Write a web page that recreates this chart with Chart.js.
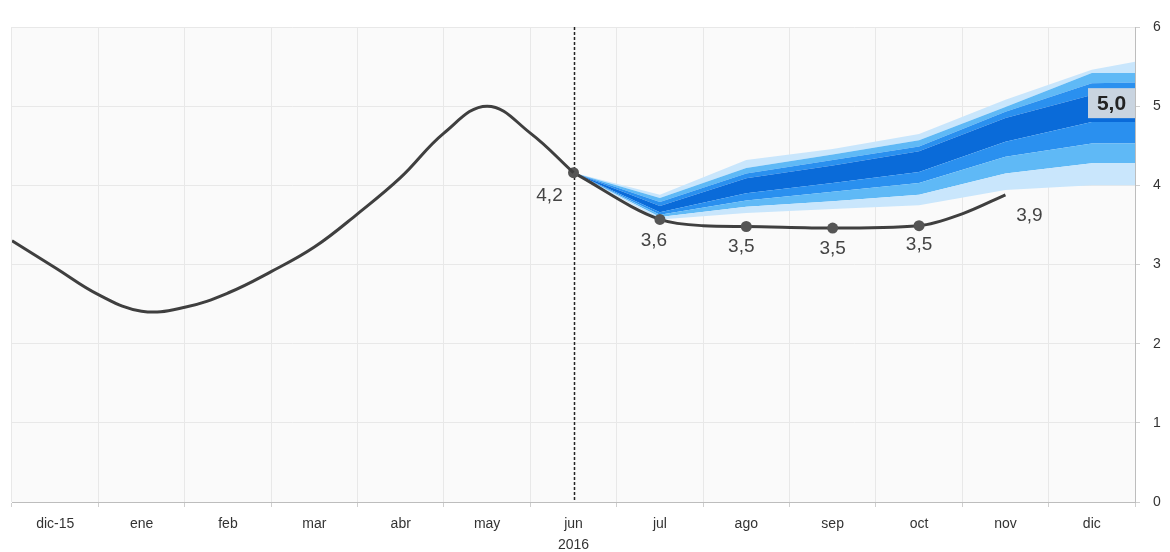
<!DOCTYPE html>
<html>
<head>
<meta charset="utf-8">
<script src="https://cdn.jsdelivr.net/npm/chart.js@4.4.0/dist/chart.umd.min.js"></script>
<style>
    html, body { margin: 0; padding: 0; background: #fff; }
    #wrap { width: 1170px; height: 552px; position: relative; }
</style>
</head>
<body>
<div id="wrap"><canvas id="chart"></canvas></div>
<script>
// categories (x index 0..12)
const monthLabels = ['dic-15', 'ene', 'feb', 'mar', 'abr', 'may', ['jun', '2016'], 'jul', 'ago', 'sep', 'oct', 'nov', 'dic'];
const yTickValues = [0, 1, 2, 3, 4, 5, 6];

// observed line
const histX = [-0.5, 0, 0.5, 1, 1.5, 2, 2.5, 3, 3.5, 4, 4.5, 5, 5.5, 6];
const histY = [3.30, 2.96, 2.62, 2.41, 2.46, 2.64, 2.91, 3.22, 3.64, 4.10, 4.66, 5.0, 4.66, 4.16];

// projection line
const projX = [6, 7, 7.5, 8, 9, 10, 10.5, 11];
const projY = [4.16, 3.57, 3.49, 3.48, 3.46, 3.49, 3.64, 3.88];
const dotX = [6, 7, 8, 9, 10];

// value labels
const valueLabelX = [6, 7, 8, 9, 10, 11];
const valueLabelText = ['4,2', '3,6', '3,5', '3,5', '3,5', '3,9'];
const lastLabelValue = 5.0;
const lastLabelText = '5,0';

// fan bands (lower -> upper bounds)
const fanX   = [6, 7, 8, 9, 10, 11, 12, 12.5];
const fanLo3 = [4.16, 3.57, 3.65, 3.70, 3.75, 3.94, 4.00, 4.00];
const fanLo2 = [4.16, 3.60, 3.73, 3.80, 3.88, 4.15, 4.28, 4.28];
const fanLo1 = [4.16, 3.63, 3.81, 3.92, 4.03, 4.36, 4.53, 4.53];
const fanLo0 = [4.16, 3.66, 3.90, 4.03, 4.17, 4.55, 4.80, 4.80];
const fanHi0 = [4.16, 3.74, 4.09, 4.25, 4.43, 4.85, 5.14, 5.14];
const fanHi1 = [4.16, 3.79, 4.15, 4.32, 4.49, 4.93, 5.29, 5.30];
const fanHi2 = [4.16, 3.84, 4.22, 4.39, 4.57, 4.99, 5.42, 5.42];
const fanHi3 = [4.16, 3.88, 4.32, 4.46, 4.65, 5.08, 5.46, 5.56];

const FONT = '"Liberation Sans", Arial, sans-serif';
const LINE_COLOR = '#3f3f3f';
const fanColors = ['#c9e6fc', '#5fb9f6', '#2a90ef', '#0a6bd9', '#2a90ef', '#5fb9f6', '#c9e6fc'];
const labelOffsets = [[-24, 23], [-6, 21], [-5, 20], [0, 21], [0, 19], [24, 21]];

function toPoints(xs, ys) {
    return xs.map((x, i) => ({ x: x, y: ys[i] }));
}

function valueAt(x) {
    const i = projX.indexOf(x);
    return i >= 0 ? projY[i] : histY[histX.indexOf(x)];
}

const fanBounds = [fanLo3, fanLo2, fanLo1, fanLo0, fanHi0, fanHi1, fanHi2, fanHi3];
const fanDatasets = fanBounds.map((b, k) => ({
    data: toPoints(fanX, b),
    fill: k === 0 ? false : '-1',
    backgroundColor: k === 0 ? 'rgba(0,0,0,0)' : fanColors[k - 1],
    borderWidth: 0,
    pointRadius: 0,
    tension: 0,
    order: 2
}));

// plot background + dashed jun line
const backdropPlugin = {
    id: 'backdrop',
    beforeDraw(chart) {
        const a = chart.chartArea;
        const ctx = chart.ctx;
        ctx.save();
        ctx.fillStyle = '#fafafa';
        ctx.fillRect(a.left, a.top, a.right - a.left, a.bottom - a.top);
        ctx.restore();
    },
    beforeDatasetsDraw(chart) {
        const a = chart.chartArea;
        const ctx = chart.ctx;
        const x = Math.round(chart.scales.x.getPixelForValue(6)) + 0.5;
        ctx.save();
        ctx.strokeStyle = '#222';
        ctx.lineWidth = 1.5;
        ctx.setLineDash([3, 2]);
        ctx.beginPath();
        ctx.moveTo(x, a.top);
        ctx.lineTo(x, a.bottom);
        ctx.stroke();
        ctx.restore();
    }
};

// numbers next to the points
const valueLabelPlugin = {
    id: 'valueLabels',
    afterDatasetsDraw(chart) {
        const ctx = chart.ctx;
        const xs = chart.scales.x;
        const ys = chart.scales.y;
        ctx.save();
        ctx.font = '19px ' + FONT;
        ctx.fillStyle = '#444';
        ctx.textAlign = 'center';
        ctx.textBaseline = 'middle';
        valueLabelX.forEach((vx, i) => {
            const off = labelOffsets[i];
            ctx.fillText(valueLabelText[i], xs.getPixelForValue(vx) + off[0], ys.getPixelForValue(valueAt(vx)) + off[1]);
        });

        // boxed last value
        const a = chart.chartArea;
        const py = ys.getPixelForValue(lastLabelValue);
        const bw = 47, bh = 30;
        ctx.fillStyle = '#c9d4e0';
        ctx.fillRect(a.right - bw, py - 3 - bh / 2, bw, bh);
        ctx.font = 'bold 21px ' + FONT;
        ctx.fillStyle = '#222';
        ctx.fillText(lastLabelText, a.right - bw / 2, py - 2);
        ctx.restore();
    }
};

new Chart(document.getElementById('chart'), {
    type: 'line',
    data: {
        datasets: [
            {
                data: toPoints(histX, histY),
                borderColor: LINE_COLOR,
                borderWidth: 3,
                tension: 0.4,
                fill: false,
                pointRadius: 0,
                order: 0
            },
            {
                data: toPoints(projX, projY),
                borderColor: LINE_COLOR,
                borderWidth: 3,
                cubicInterpolationMode: 'monotone',
                fill: false,
                pointRadius: ctx => dotX.includes(projX[ctx.dataIndex]) ? 5.5 : 0,
                pointBackgroundColor: '#555',
                pointBorderColor: '#555',
                pointBorderWidth: 0,
                order: 0
            },
            ...fanDatasets
        ]
    },
    options: {
        responsive: true,
        maintainAspectRatio: false,
        animation: false,
        layout: { padding: { left: 12, top: 27, right: 0, bottom: 0 } },
        plugins: {
            legend: { display: false },
            tooltip: { enabled: false }
        },
        scales: {
            x: {
                type: 'linear',
                min: -0.5,
                max: 12.5,
                afterBuildTicks: s => { s.ticks = monthLabels.map((_, i) => ({ value: i })); },
                afterFit: s => { s.height = 50; },
                ticks: {
                    autoSkip: false,
                    maxRotation: 0,
                    padding: 7,
                    color: '#333',
                    font: { family: FONT, size: 14, lineHeight: 1.5 },
                    callback: v => monthLabels[v]
                },
                grid: { offset: true, color: '#e8e8e8', tickLength: 5, tickColor: '#cfcfcf' },
                border: { color: '#bdbdbd' }
            },
            y: {
                position: 'right',
                min: 0,
                max: 6,
                afterBuildTicks: s => { s.ticks = yTickValues.map(v => ({ value: v })); },
                afterFit: s => { s.width = 35; },
                ticks: {
                    padding: 13,
                    color: '#333',
                    font: { family: FONT, size: 14 }
                },
                grid: { color: '#e8e8e8', tickLength: 5, tickColor: '#cfcfcf' },
                border: { color: '#bdbdbd' }
            }
        }
    },
    plugins: [backdropPlugin, valueLabelPlugin]
});
</script>
</body>
</html>
